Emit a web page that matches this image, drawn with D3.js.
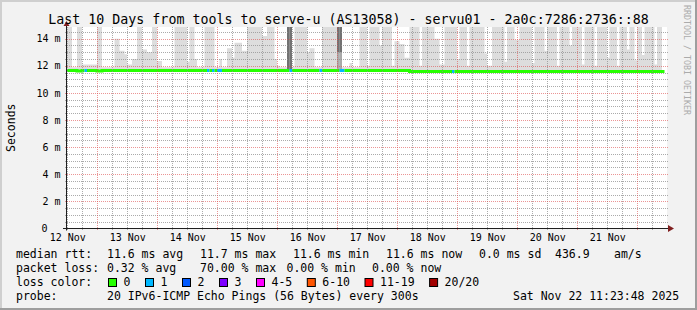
<!DOCTYPE html>
<html>
<head>
<meta charset="utf-8">
<title>smokeping servu01 10 days</title>
<script src="https://cdn.jsdelivr.net/npm/d3@7/dist/d3.min.js"></script>
<style>
  body { margin: 0; background: #f2f2f2; }
  text { font-family: "DejaVu Sans Mono", monospace; fill: #000; white-space: pre; }
  .grid line { stroke: rgba(143,143,143,0.75); stroke-width: 1; stroke-dasharray: 1,1; shape-rendering: crispEdges; }
  .mgrid line { stroke: rgba(222,79,79,0.6); stroke-width: 1; stroke-dasharray: 1,1; shape-rendering: crispEdges; }
  .ylab text, .xlab text { font-size: 10px; }
  .legend text { font-size: 11.5px; }
</style>
</head>
<body>
<svg id="chart" width="697" height="310"></svg>
<script>

// ---- data (hourly, starting 12 Nov ~11:52) ----
var titleText = "Last 10 Days from tools to serve-u (AS13058) - servu01 - 2a0c:7286:2736::88";
var graphStart = new Date(Date.UTC(2025, 10, 12, 11, 52));
var graphEnd = new Date(Date.UTC(2025, 10, 22, 11, 52));
var yTicks = [0, 2, 4, 6, 8, 10, 12, 14];

// top of the smoke per hour (ms), 15 = beyond the top of the graph
var smokeHi = [
  15,15,11.9,11.9,15,15,12.1,12.1,12.1,12.1,12.1,12.1,15,15,11.9,11.9,11.9,11.9,11.9,14.0,
  14.0,13.1,13.1,12.85,12.1,12.1,12.5,12.5,15,15,13.2,13.2,13.0,13.0,15,15,12.35,12.35,11.9,11.9,
  11.9,11.9,11.9,15,15,15,15,15,12.3,15,15,12.5,11.9,11.9,11.9,15,15,15,15,11.9,
  11.9,12.5,11.9,11.9,13.3,13.3,12.6,13.7,13.7,13.7,13.1,13.1,15,15,15,15,15,15,14.2,14.2,
  15,15,15,12.5,12.0,11.9,11.9,11.9,15,15,11.9,15,15,15,15,15,13.0,13.3,13.3,11.9,
  11.9,11.9,15,15,15,15,15,15,15,15,11.9,11.9,11.9,12.2,11.9,11.9,11.9,15,15,15,
  12.0,15,15,15,15,13.5,15,15,15,15,12.0,13.8,13.8,13.6,13.6,12.6,12.6,15,15,15,
  15,12.0,15,15,15,15,15,14.0,14.0,12.1,12.1,15,15,15,15,15,12.5,15,15,15,
  12.0,15,15,15,15,15,15,12.9,12.0,12.0,15,15,15,15,15,12.3,15,15,15,13.9,
  13.9,15,15,15,15,15,12.2,15,15,15,15,13.1,15,15,15,15,12.0,15,15,15,
  15,13.5,15,15,15,15,12.1,15,15,15,15,12.0,15,15,15,15,12.6,15,15,15,
  12.0,15,15,15,13.2,15,15,12.4,15,15,12.8,15,15,15,15,12.1,15,15,null,null
];

// median rtt per hour (ms)
var median = [
  11.65,11.65,11.65,11.65,11.62,11.62,11.65,11.65,11.65,11.65,11.65,11.65,11.62,11.62,11.65,11.65,11.65,11.65,11.65,11.65,
  11.65,11.65,11.65,11.65,11.65,11.65,11.65,11.65,11.65,11.65,11.65,11.65,11.65,11.65,11.65,11.65,11.65,11.65,11.65,11.65,
  11.65,11.65,11.65,11.65,11.65,11.65,11.65,11.65,11.65,11.65,11.65,11.65,11.65,11.65,11.65,11.65,11.65,11.65,11.65,11.65,
  11.65,11.65,11.65,11.65,11.65,11.65,11.65,11.65,11.65,11.65,11.65,11.65,11.65,11.65,11.65,11.65,11.65,11.65,11.65,11.65,
  11.65,11.65,11.65,11.65,11.65,11.65,11.65,11.65,11.65,11.65,11.65,11.65,11.65,11.65,11.65,11.65,11.65,11.65,11.65,11.65,
  11.65,11.65,11.65,11.65,11.65,11.65,11.65,11.65,11.65,11.65,11.65,11.65,11.65,11.65,11.65,11.65,11.65,11.65,11.65,11.65,
  11.65,11.65,11.65,11.65,11.65,11.65,11.65,11.65,11.65,11.65,11.65,11.65,11.65,11.65,11.65,11.65,11.65,11.58,11.58,11.58,
  11.58,11.58,11.58,11.58,11.58,11.58,11.58,11.58,11.58,11.58,11.58,11.58,11.58,11.58,11.58,11.58,11.58,11.58,11.58,11.58,
  11.58,11.58,11.58,11.58,11.58,11.58,11.58,11.58,11.58,11.58,11.58,11.58,11.58,11.58,11.58,11.58,11.58,11.58,11.58,11.58,
  11.58,11.58,11.58,11.58,11.58,11.58,11.58,11.58,11.58,11.58,11.58,11.58,11.58,11.58,11.58,11.58,11.58,11.58,11.58,11.58,
  11.58,11.58,11.58,11.58,11.58,11.58,11.58,11.58,11.58,11.58,11.58,11.58,11.58,11.58,11.58,11.58,11.58,11.58,11.58,11.58,
  11.58,11.58,11.58,11.58,11.58,11.58,11.58,11.58,11.58,11.58,11.58,11.58,11.58,11.58,11.58,11.58,11.58,11.58,11.58,null
];

// lost pings (of 20) per hour
var loss = [
  0,0,0,0,0,0,0,1,0,0,0,0,0,0,0,0,0,0,0,0,
  0,0,0,0,0,0,0,0,0,0,0,0,0,0,0,0,0,0,0,0,
  0,0,0,0,0,0,0,0,0,0,0,0,0,0,0,0,1,0,1,0,
  1,1,0,0,0,0,0,0,0,0,0,0,0,0,0,0,0,0,0,0,
  0,0,0,0,0,0,0,0,0,1,0,0,0,0,0,0,0,0,0,0,
  0,1,0,0,0,0,0,0,0,1,1,0,0,0,0,0,0,0,0,0,
  0,0,0,0,0,0,0,0,0,0,0,0,0,0,0,0,0,0,0,0,
  0,0,0,0,0,0,0,0,0,0,0,0,0,0,1,0,0,0,0,0,
  0,0,0,0,0,0,0,0,0,0,0,0,0,0,0,0,0,0,0,0,
  0,0,0,0,0,0,0,0,0,0,0,0,0,0,0,0,0,0,0,0,
  0,0,0,0,0,0,0,0,0,0,0,0,0,0,0,0,0,0,0,0,
  0,0,0,0,0,0,0,0,0,0,0,0,0,0,0,0,0,0,0,0
];

// hours where most pings sit high (dark smoke) and the medium band under them
var darkHours = [88, 89, 108, 109];
var darkFrom = [11.7, 11.7, 13.0, 13.0];
var midHours = [108, 109];
var midTop = [13.0, 13.0];

var lossLabels = ["0", "1", "2", "3", "4-5", "6-10", "11-19", "20/20"];
var lossColors = ["#26ff00", "#00b8ff", "#0059ff", "#7e00ff", "#ff00ff", "#ff5500", "#ff0000", "#a10000"];

var statRows = [
  {label: "median rtt:", items: [["11.6 ms avg", 107], ["11.7 ms max", 200], ["11.6 ms min", 293], ["11.6 ms now", 386], ["0.0 ms sd", 479], ["436.9", 555], ["am/s", 614]]},
  {label: "packet loss:", items: [["0.32 % avg", 107], ["70.00 % max", 200], ["0.00 % min", 286.5], ["0.00 % now", 372]]}
];
var probeText = "20 IPv6-ICMP Echo Pings (56 Bytes) every 300s";
var stampText = "Sat Nov 22 11:23:48 2025";

// ---- layout ----
var W = 697, H = 310;
var X0 = 67, X1 = 667, Y0 = 228.5, Y1 = 27;

var svg = d3.select("#chart");

function lossClass(n) {
  if (n <= 3) return n;
  if (n <= 5) return 4;
  if (n <= 10) return 5;
  if (n <= 19) return 6;
  return 7;
}
function hourTime(i) { return d3.utcHour.offset(graphStart, i); }

var x = d3.scaleUtc().domain([graphStart, graphEnd]).range([X0, X1]);
var y = d3.scaleLinear().domain([0, 14.86]).range([Y0, Y1]);

// background + 3d frame
svg.append("rect").attr("width", W).attr("height", H).attr("fill", "#f2f2f2");
svg.append("path").attr("d", "M0,0H" + W + "V2H2V" + H + "H0Z").attr("fill", "#cfcfcf");
svg.append("path").attr("d", "M" + W + ",0V" + H + "H0V" + (H - 2) + "H" + (W - 2) + "V0Z").attr("fill", "#9e9e9e");

// canvas
svg.append("rect").attr("x", X0).attr("y", Y1).attr("width", X1 - X0).attr("height", Y0 - Y1).attr("fill", "#fff");

svg.append("clipPath").attr("id", "plotclip")
  .append("rect").attr("x", X0).attr("y", Y1).attr("width", X1 - X0).attr("height", Y0 - Y1);
var plot = svg.append("g").attr("clip-path", "url(#plotclip)");

// smoke as stepped area
var smokePts = [];
smokeHi.forEach(function(v, i) {
  if (v == null) { smokePts.push({t: hourTime(i), lo: null, hi: null}); return; }
  var lo = median[i] != null ? median[i] - 0.08 : 11.5;
  smokePts.push({t: hourTime(i), lo: lo, hi: v});
  smokePts.push({t: hourTime(i + 1), lo: lo, hi: v});
});
var smokeArea = d3.area()
  .defined(function(d) { return d.hi != null; })
  .x(function(d) { return x(d.t); })
  .y0(function(d) { return y(d.lo); })
  .y1(function(d) { return y(d.hi); });
plot.append("path").attr("d", smokeArea(smokePts)).attr("fill", "#dddddd");

midHours.forEach(function(h, k) {
  plot.append("rect")
    .attr("x", x(hourTime(h))).attr("width", x(hourTime(h + 1)) - x(hourTime(h)))
    .attr("y", y(midTop[k])).attr("height", y(median[h]) - y(midTop[k]))
    .attr("fill", "#a9a9a9");
});
darkHours.forEach(function(h, k) {
  plot.append("rect")
    .attr("x", x(hourTime(h))).attr("width", x(hourTime(h + 1)) - x(hourTime(h)))
    .attr("y", y(smokeHi[h])).attr("height", y(darkFrom[k]) - y(smokeHi[h]))
    .attr("fill", "#727272");
});

// median line coloured by loss
var runs = [], cur = null;
median.forEach(function(m, i) {
  if (m == null) { cur = null; return; }
  var c = lossClass(loss[i]);
  if (!cur || cur.c !== c) { cur = {c: c, pts: []}; runs.push(cur); }
  cur.pts.push([hourTime(i), m], [hourTime(i + 1), m]);
});
var medLine = d3.line().x(function(d) { return x(d[0]); }).y(function(d) { return y(d[1]); });
runs.forEach(function(r) {
  plot.append("path").attr("d", medLine(r.pts))
    .attr("fill", "none").attr("stroke", lossColors[r.c]).attr("stroke-width", 3);
});

// grid on top of the data
function px(v) { return Math.round(v) + 0.5; }
var yMinor = d3.range(0.5, 14.86, 0.5).filter(function(v) { return v % 2 !== 0; });
var yMajor = yTicks.filter(function(v) { return v > 0; });
var xMinor = d3.utcHour.every(6).range(graphStart, graphEnd).filter(function(d) { return d.getUTCHours() !== 0; });
var xMajor = d3.utcDay.range(graphStart, graphEnd);

var g1 = svg.append("g").attr("class", "grid");
g1.selectAll(".h").data(yMinor).join("line")
  .attr("x1", X0 - 2).attr("x2", X1 + 2)
  .attr("y1", function(d) { return px(y(d)); }).attr("y2", function(d) { return px(y(d)); });
g1.selectAll(".v").data(xMinor).join("line")
  .attr("y1", Y1).attr("y2", Y0 + 2)
  .attr("x1", function(d) { return px(x(d)); }).attr("x2", function(d) { return px(x(d)); });

var g2 = svg.append("g").attr("class", "mgrid");
g2.selectAll(".h").data(yMajor).join("line")
  .attr("x1", X0 - 2).attr("x2", X1 + 2)
  .attr("y1", function(d) { return px(y(d)); }).attr("y2", function(d) { return px(y(d)); });
g2.selectAll(".v").data(xMajor).join("line")
  .attr("y1", Y1).attr("y2", Y0 + 2)
  .attr("x1", function(d) { return px(x(d)); }).attr("x2", function(d) { return px(x(d)); });

// axes lines + arrows
svg.append("line").attr("x1", X0 - 4).attr("x2", X1 + 4).attr("y1", Y0).attr("y2", Y0)
  .attr("stroke", "#1f1f1f").attr("stroke-width", 1);
svg.append("line").attr("x1", X0 - 0.5).attr("x2", X0 - 0.5).attr("y1", Y0 + 2).attr("y2", Y1 - 4)
  .attr("stroke", "#1f1f1f").attr("stroke-width", 1);
svg.append("path").attr("d", "M" + (X1 + 1) + "," + (Y0 - 3.5) + "L" + (X1 + 7) + "," + Y0 + "L" + (X1 + 1) + "," + (Y0 + 3.5) + "Z")
  .attr("fill", "#801f1f");
svg.append("path").attr("d", "M" + (X0 - 3.5) + "," + (Y1 - 1) + "L" + (X0 - 0.5) + "," + (Y1 - 6) + "L" + (X0 + 2.5) + "," + (Y1 - 1) + "Z")
  .attr("fill", "#801f1f");

// y labels
var yAxis = d3.axisLeft(y).tickValues(yTicks).tickSize(0).tickPadding(6.5)
  .tickFormat(function(d) { return d === 0 ? "0" : d + " m"; });
var ya = svg.append("g").attr("class", "ylab").attr("transform", "translate(" + X0 + ",0)").call(yAxis);
ya.select(".domain").remove();
ya.selectAll("text").attr("fill", "#000")
  .attr("x", function(d) { return d === 0 ? -19.5 : -6.5; });

// x labels at noon of each day
var noons = d3.utcDay.range(d3.utcDay.floor(graphStart), graphEnd).map(function(d) { return d3.utcHour.offset(d, 12); })
  .filter(function(d) { return d >= graphStart && d < graphEnd; });
var xAxis = d3.axisBottom(x).tickValues(noons).tickSize(0).tickPadding(5.5).tickFormat(d3.utcFormat("%-d %b"));
var xa = svg.append("g").attr("class", "xlab").attr("transform", "translate(0," + Y0 + ")").call(xAxis);
xa.select(".domain").remove();
xa.selectAll("text").attr("fill", "#000");

// titles
svg.append("text").attr("x", W / 2).attr("y", 23.5).attr("text-anchor", "middle")
  .style("font-size", "13.3px").text(titleText);
svg.append("text").attr("transform", "translate(14.5," + ((Y0 + Y1) / 2) + ") rotate(-90)")
  .attr("text-anchor", "middle").style("font-size", "11.5px").text("Seconds");
svg.append("text").attr("transform", "translate(683.5,5) rotate(90)")
  .style("font-size", "8.3px").style("fill", "#ababab").text("RRDTOOL / TOBI OETIKER");

// legend
var lg = svg.append("g").attr("class", "legend");
var rowY = [258, 272, 286, 300];
statRows.forEach(function(r, k) {
  lg.append("text").attr("x", 16).attr("y", rowY[k]).text(r.label);
  r.items.forEach(function(it) {
    lg.append("text").attr("x", it[1]).attr("y", rowY[k]).text(it[0]);
  });
});
lg.append("text").attr("x", 16).attr("y", rowY[2]).text("loss color:");
var bx = 108.5;
lossLabels.forEach(function(l, k) {
  lg.append("rect").attr("x", bx).attr("y", 278.5).attr("width", 8).attr("height", 8)
    .attr("fill", lossColors[k]).attr("stroke", "#000").attr("stroke-width", 1);
  lg.append("text").attr("x", bx + 15).attr("y", rowY[2]).text(l);
  bx += 30.1 + 6.9 * l.length;
});
lg.append("text").attr("x", 16).attr("y", rowY[3]).text("probe:");
lg.append("text").attr("x", 107).attr("y", rowY[3]).text(probeText);
lg.append("text").attr("x", 513).attr("y", rowY[3]).text(stampText);

</script>
</body>
</html>
